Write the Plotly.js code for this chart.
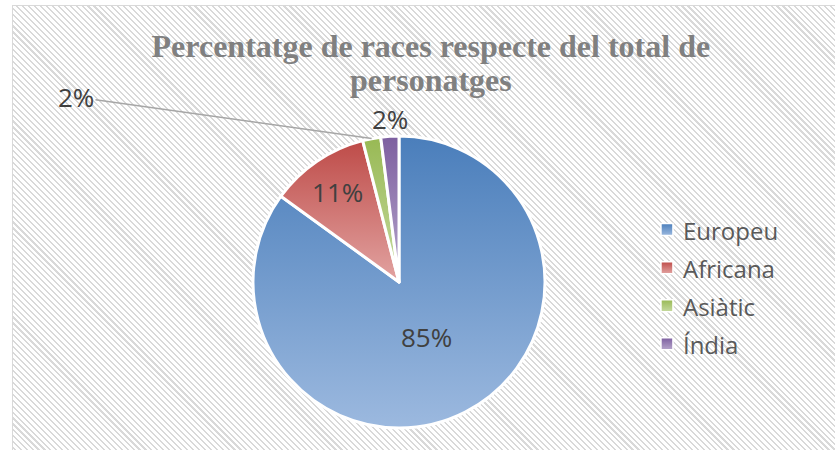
<!DOCTYPE html>
<html><head><meta charset="utf-8">
<script src="https://cdn.plot.ly/plotly-3.0.1.min.js"></script>
<style>
html,body{margin:0;padding:0;background:#fff;}
#wrap{position:relative;width:835px;height:450px;overflow:hidden;}
#bg{position:absolute;left:12px;top:5px;width:900px;height:520px;border:1px solid #d9d9d9;
background:repeating-linear-gradient(45deg,#d9d9d9 0px,#d9d9d9 1.5px,#ffffff 1.5px,#ffffff 4.2px);}
#chart{position:absolute;left:0;top:0;width:835px;height:450px;}
</style></head><body>
<div id="wrap"><div id="bg"></div><div id="chart"></div></div>
<script>
var categories = ['Europeu', 'Africana', 'Asiàtic', 'Índia'];
var values = [85, 11, 2, 2];
var sliceColors = ['#7399cb', '#cb6b68', '#aec97a', '#9a85b6'];
var gradTop = ['#4a7ebb', '#be4b48', '#98b954', '#7d5fa0'];
var gradBottom = ['#9cb9df', '#e2a3a1', '#c6daa0', '#b6a6cb'];
var textPositions = ['none', 'inside', 'none', 'none'];
var titleLines = ['Percentatge de races respecte del total de', 'personatges'];

var W = 835, H = 450;
var dom = {x: [253 / W, 545 / W], y: [1 - 428 / H, 1 - 136 / H]};

var total = values.reduce(function (a, b) { return a + b; }, 0);
function pct(v) { return Math.round(v / total * 100) + '%'; }

var cxPx = (dom.x[0] + dom.x[1]) / 2 * W;
var cyPx = (1 - (dom.y[0] + dom.y[1]) / 2) * H;
var rPx = (dom.y[1] - dom.y[0]) * H / 2;

// point at radius fraction f along the middle angle of slice k (clockwise from 12 o'clock)
function slicePoint(k, f) {
  var before = 0;
  for (var i = 0; i < k; i++) before += values[i];
  var ang = (before + values[k] / 2) / total * 2 * Math.PI;
  return {x: cxPx + f * rPx * Math.sin(ang), y: cyPx - f * rPx * Math.cos(ang)};
}

var labelFont = {family: 'Open Sans', size: 26, color: '#404040'};
var pEu = slicePoint(0, 0.42);
var pAs = slicePoint(2, 1.0);
var pIn = slicePoint(3, 1.0);

var data = [{
  type: 'pie',
  labels: categories.map(function (c) { return '<span style="font-size:24px">' + c + '</span>'; }),
  values: values,
  sort: false,
  direction: 'clockwise',
  rotation: 0,
  domain: dom,
  marker: {colors: sliceColors, line: {color: '#ffffff', width: 3}},
  textinfo: 'percent',
  textposition: textPositions,
  insidetextorientation: 'horizontal',
  textfont: labelFont,
  hoverinfo: 'label+percent',
  automargin: false
}];

var layout = {
  width: W, height: H,
  margin: {l: 0, r: 0, t: 0, b: 0},
  paper_bgcolor: 'rgba(0,0,0,0)',
  plot_bgcolor: 'rgba(0,0,0,0)',
  title: {
    text: titleLines.map(function (t) { return '<span style="font-size:32px">' + t + '</span>'; }).join('<br>'),
    font: {family: 'Liberation Serif', size: 26, color: '#808080', weight: 'bold'},
    x: 0.516, xanchor: 'center', xref: 'container',
    y: 1 - 57 / H, yanchor: 'top', yref: 'container'
  },
  showlegend: true,
  legend: {
    x: 0.77, xanchor: 'left', y: 1 - 287 / H, yanchor: 'middle',
    font: {family: 'Open Sans', size: 27, color: '#595959'},
    bgcolor: 'rgba(0,0,0,0)', borderwidth: 0
  },
  annotations: [
    {xref: 'paper', yref: 'paper', x: pEu.x / W, y: 1 - pEu.y / H,
     xanchor: 'center', yanchor: 'middle',
     text: pct(values[0]), showarrow: false, font: labelFont},
    {xref: 'paper', yref: 'paper', x: pAs.x / W, y: 1 - pAs.y / H,
     text: pct(values[2]), showarrow: true, arrowhead: 0, arrowwidth: 1.5, arrowcolor: '#a6a6a6',
     ax: 76 - pAs.x, ay: 97 - pAs.y, standoff: 0, font: labelFont},
    {xref: 'paper', yref: 'paper', x: pIn.x / W, y: 1 - pIn.y / H, yshift: 17,
     xanchor: 'center', yanchor: 'middle',
     text: pct(values[3]), showarrow: false, font: labelFont}
  ]
};

var gd = document.getElementById('chart');
var ns = 'http://www.w3.org/2000/svg';

function applyStyling() {
  var svg = gd.querySelector('svg.main-svg');
  if (!svg) return;
  var defs = svg.querySelector('defs');
  if (!defs) { defs = document.createElementNS(ns, 'defs'); svg.insertBefore(defs, svg.firstChild); }
  for (var k = 0; k < categories.length; k++) {
    if (document.getElementById('sliceGrad' + k)) continue;
    var g = document.createElementNS(ns, 'linearGradient');
    g.setAttribute('id', 'sliceGrad' + k);
    g.setAttribute('x1', '0'); g.setAttribute('y1', '0');
    g.setAttribute('x2', '0'); g.setAttribute('y2', '1');
    var s1 = document.createElementNS(ns, 'stop');
    s1.setAttribute('offset', '0'); s1.setAttribute('stop-color', gradTop[k]);
    var s2 = document.createElementNS(ns, 'stop');
    s2.setAttribute('offset', '1'); s2.setAttribute('stop-color', gradBottom[k]);
    g.appendChild(s1); g.appendChild(s2);
    defs.appendChild(g);
  }
  gd.querySelectorAll('g.slice').forEach(function (sl) {
    var d = sl.__data__;
    var i = d && d.i !== undefined ? d.i : null;
    if (i === null) return;
    var p = sl.querySelector('path.surface');
    if (p) p.style.fill = 'url(#sliceGrad' + i + ')';
  });
  var lp = gd.querySelectorAll('.legendpoints path');
  lp.forEach(function (p, k) {
    var d = p.__data__;
    var idx = (d && d[0] && d[0].i !== undefined) ? d[0].i : k;
    p.setAttribute('d', 'M10,6H-2V-6H10Z');
    p.style.fill = 'url(#sliceGrad' + idx + ')';
    p.style.stroke = '#ffffff';
    p.style.strokeWidth = '1.5px';
  });
}

Plotly.newPlot(gd, data, layout, {staticPlot: true}).then(function () {
  applyStyling();
  gd.on('plotly_afterplot', applyStyling);
  setTimeout(applyStyling, 100);
});
</script>
</body></html>
